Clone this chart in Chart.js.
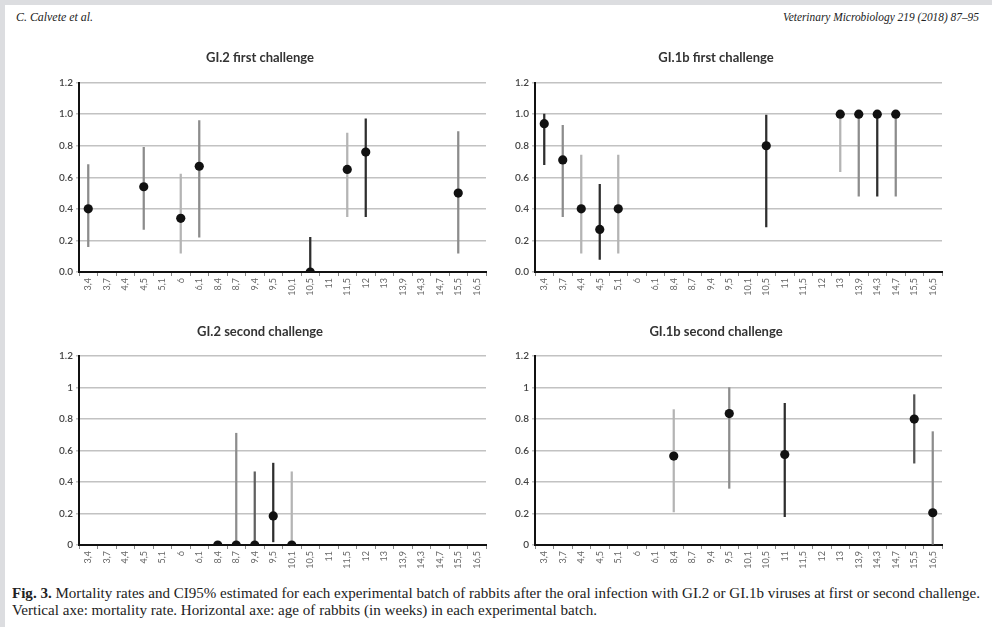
<!DOCTYPE html>
<html lang="en">
<head>
<meta charset="UTF-8">
<title>Mortality rates and CI95%</title>
<script src="https://cdn.jsdelivr.net/npm/chart.js"></script>
<style>
    html, body { margin: 0; padding: 0; }
    body { width: 992px; height: 627px; background: #dcdde0; position: relative; overflow: hidden; }
    #page { position: absolute; left: 5px; top: 5px; right: 0; bottom: 0; background: #fff; }
    .box { position: absolute; width: 461px; }
    .txt { position: absolute; white-space: nowrap; font-family: "Liberation Serif", serif; color: #222; transform-origin: 0 50%; }
    .hdr { font-style: italic; font-size: 12px; top: 10px; }
    .cap { font-size: 14px; left: 12px; }
</style>
</head>
<body>
<div id="page"></div>
<span class="txt hdr" id="hl" style="left:16px">C. Calvete et al.</span>
<span class="txt hdr" id="hr" style="left:783px">Veterinary Microbiology 219 (2018) 87–95</span>

<div class="box" style="left:34px;top:40px;height:270px"><canvas id="c1"></canvas></div>
<div class="box" style="left:490px;top:40px;height:270px"><canvas id="c2"></canvas></div>
<div class="box" style="left:34px;top:315px;height:268px"><canvas id="c3"></canvas></div>
<div class="box" style="left:490px;top:315px;height:268px"><canvas id="c4"></canvas></div>

<span class="txt cap" id="cap1" style="top:586px"><b>Fig. 3.</b> Mortality rates and CI95% estimated for each experimental batch of rabbits after the oral infection with GI.2 or GI.1b viruses at first or second challenge.</span>
<span class="txt cap" id="cap2" style="top:603px">Vertical axe: mortality rate. Horizontal axe: age of rabbits (in weeks) in each experimental batch.</span>

<script>
// age of rabbits (weeks) in each batch
const ages = ['3,4', '3,7', '4,4', '4,5', '5,1', '6', '6,1', '8,4', '8,7', '9,4', '9,5',
              '10,1', '10,5', '11', '11,5', '12', '13', '13,9', '14,3', '14,7', '15,5', '16,5'];

// GI.2 first challenge
const gi2FirstRate = [0.40, null, null, 0.54, null, 0.34, 0.67, null, null, null, null,
                      null, 0.0, null, 0.65, 0.76, null, null, null, null, 0.50, null];
const gi2FirstLow  = [0.16, null, null, 0.27, null, 0.12, 0.22, null, null, null, null,
                      null, 0.0, null, 0.35, 0.35, null, null, null, null, 0.12, null];
const gi2FirstHigh = [0.68, null, null, 0.79, null, 0.62, 0.96, null, null, null, null,
                      null, 0.22, null, 0.88, 0.97, null, null, null, null, 0.89, null];

// GI.1b first challenge
const gi1bFirstRate = [0.94, 0.71, 0.40, 0.27, 0.40, null, null, null, null, null, null,
                       null, 0.80, null, null, null, 1.0, 1.0, 1.0, 1.0, null, null];
const gi1bFirstLow  = [0.68, 0.35, 0.12, 0.08, 0.12, null, null, null, null, null, null,
                       null, 0.285, null, null, null, 0.635, 0.48, 0.48, 0.48, null, null];
const gi1bFirstHigh = [1.0, 0.93, 0.74, 0.555, 0.74, null, null, null, null, null, null,
                       null, 0.995, null, null, null, 1.0, 1.0, 1.0, 1.0, null, null];

// GI.2 second challenge
const gi2SecondRate = [null, null, null, null, null, null, null, 0.0, 0.0, 0.0, 0.185,
                       0.0, null, null, null, null, null, null, null, null, null, null];
const gi2SecondLow  = [null, null, null, null, null, null, null, null, 0.0, 0.0, 0.02,
                       0.0, null, null, null, null, null, null, null, null, null, null];
const gi2SecondHigh = [null, null, null, null, null, null, null, null, 0.71, 0.465, 0.52,
                       0.465, null, null, null, null, null, null, null, null, null, null];

// GI.1b second challenge
const gi1bSecondRate = [null, null, null, null, null, null, null, 0.565, null, null, 0.835,
                        null, null, 0.575, null, null, null, null, null, null, 0.80, 0.205];
const gi1bSecondLow  = [null, null, null, null, null, null, null, 0.21, null, null, 0.36,
                        null, null, 0.18, null, null, null, null, null, null, 0.52, 0.0];
const gi1bSecondHigh = [null, null, null, null, null, null, null, 0.86, null, null, 1.0,
                        null, null, 0.90, null, null, null, null, null, null, 0.955, 0.72];

// shade of each CI line, as in the figure
const LT = '#b4b4b4', MD = '#8c8c8c', DK = '#2e2e2e';
const gi2FirstShade   = [MD, 0, 0, MD, 0, LT, MD, 0, 0, 0, 0, 0, DK, 0, LT, DK, 0, 0, 0, 0, MD, 0];
const gi1bFirstShade  = [DK, MD, LT, DK, LT, 0, 0, 0, 0, 0, 0, 0, DK, 0, 0, 0, LT, MD, DK, MD, 0, 0];
const gi2SecondShade  = [0, 0, 0, 0, 0, 0, 0, 0, MD, '#606060', DK, LT, 0, 0, 0, 0, 0, 0, 0, 0, 0, 0];
const gi1bSecondShade = [0, 0, 0, 0, 0, 0, 0, LT, 0, 0, MD, 0, 0, DK, 0, 0, 0, 0, 0, 0, '#555', MD];

function makeChart(id, title, rate, low, high, shade, oneDecimal, titlePad) {
    const ranges = rate.map((r, i) => low[i] == null ? null : [low[i], high[i]]);
    new Chart(document.getElementById(id), {
        type: 'bar',
        data: {
            labels: ages,
            datasets: [
                {
                    type: 'line', data: rate, showLine: false, order: 0,
                    pointRadius: 4.6, pointBackgroundColor: '#111', pointBorderWidth: 0
                },
                {
                    type: 'bar', data: ranges, order: 1,
                    backgroundColor: shade.map(c => c || 'transparent'), barThickness: 1.6
                }
            ]
        },
        options: {
            animation: false,
            responsive: true,
            maintainAspectRatio: false,
            layout: { padding: { left: 0, right: 9, top: 0, bottom: 0 } },
            plugins: {
                legend: { display: false },
                tooltip: { enabled: false },
                title: {
                    display: true, text: title, color: '#333',
                    font: { family: 'Lato', size: 13, weight: 'bold' },
                    padding: titlePad
                }
            },
            scales: {
                x: {
                    grid: { offset: true, drawOnChartArea: false, tickLength: 4, color: '#888', lineWidth: 1 },
                    border: { color: '#111', width: 2 },
                    ticks: {
                        autoSkip: false, minRotation: 90, maxRotation: 90, padding: 2,
                        font: { family: 'Lato', size: 9 }, color: '#666'
                    },
                    afterFit: s => { s.height = 38; }
                },
                y: {
                    min: 0, max: 1.2,
                    grid: { color: '#c2c2c2', lineWidth: 1.5, tickLength: 3 },
                    border: { color: '#111', width: 2 },
                    ticks: {
                        stepSize: 0.2, padding: 3,
                        font: { family: 'Lato', size: 10, weight: '600' }, color: '#444',
                        callback: v => oneDecimal ? v.toFixed(1) : String(+v.toFixed(1))
                    },
                    afterFit: s => { s.width = 45; }
                }
            }
        }
    });
}

makeChart('c1', 'GI.2 first challenge', gi2FirstRate, gi2FirstLow, gi2FirstHigh, gi2FirstShade, true, { top: 10, bottom: 17 });
makeChart('c2', 'GI.1b first challenge', gi1bFirstRate, gi1bFirstLow, gi1bFirstHigh, gi1bFirstShade, true, { top: 10, bottom: 17 });
makeChart('c3', 'GI.2 second challenge', gi2SecondRate, gi2SecondLow, gi2SecondHigh, gi2SecondShade, false, { top: 9, bottom: 16.5 });
makeChart('c4', 'GI.1b second challenge', gi1bSecondRate, gi1bSecondLow, gi1bSecondHigh, gi1bSecondShade, false, { top: 9, bottom: 16.5 });

// squeeze the text lines to the width they take in the figure
function fit(id, w) {
    const el = document.getElementById(id);
    el.style.transform = 'scaleX(' + (w / el.getBoundingClientRect().width) + ')';
}
fit('hl', 77);
fit('hr', 196);
fit('cap1', 968);
fit('cap2', 585);
</script>
</body>
</html>
